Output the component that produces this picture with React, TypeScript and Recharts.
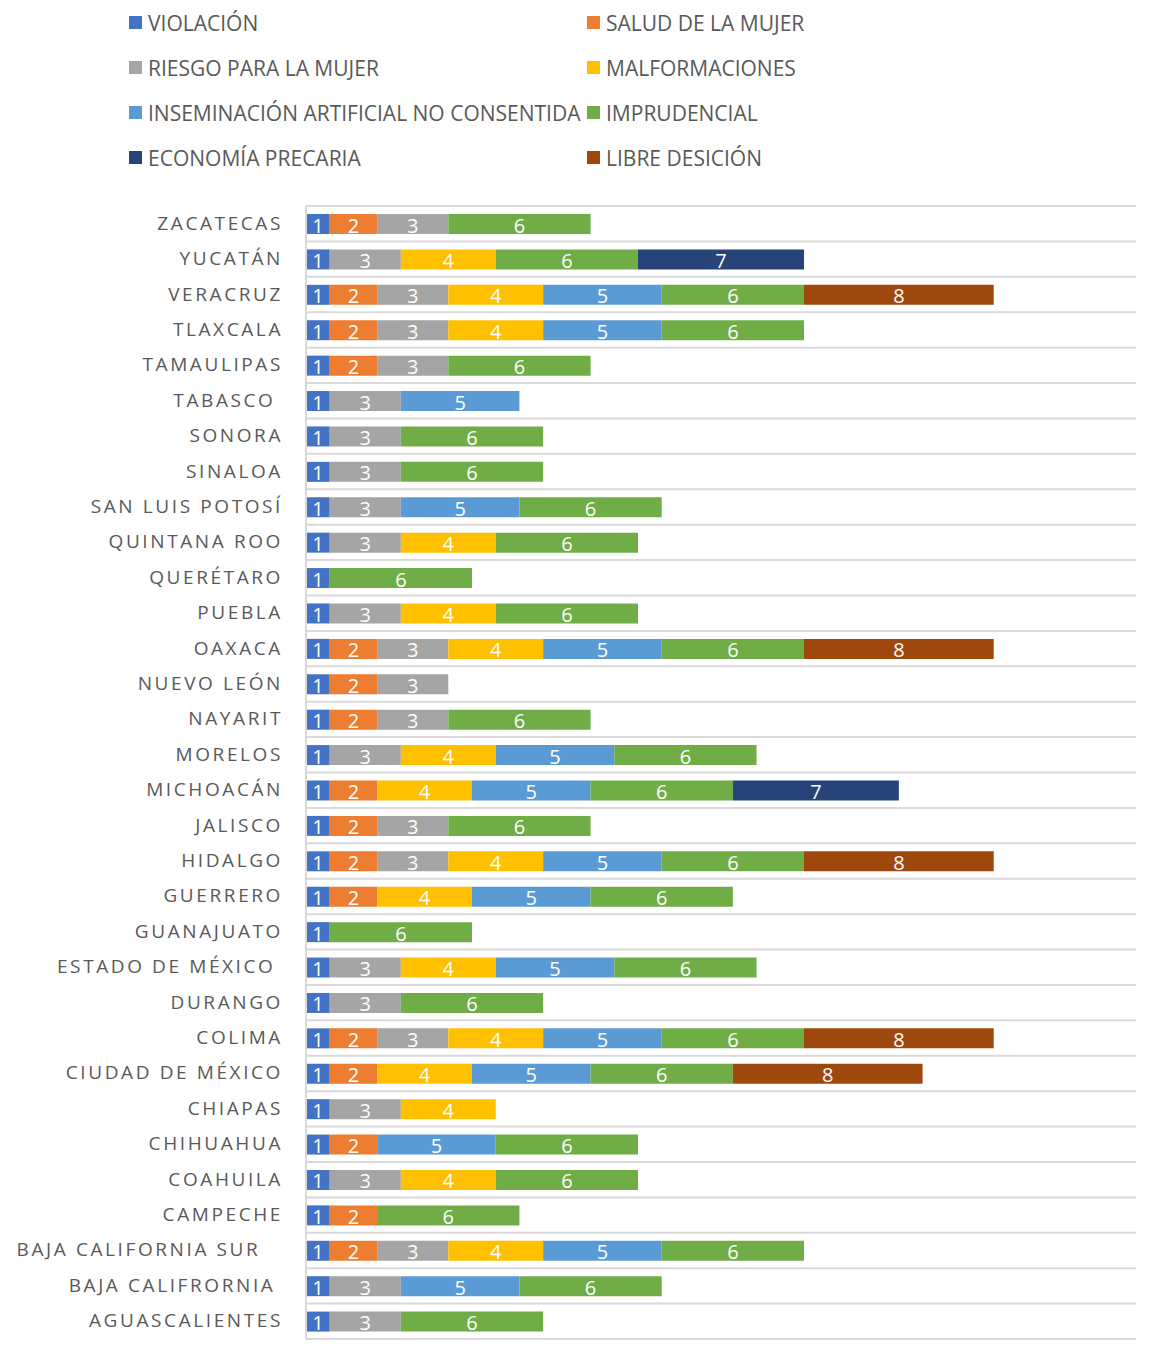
import React from "react";
import {
    BarChart, Bar, XAxis, YAxis, CartesianGrid, LabelList,
} from "recharts";

const categories = [
    "ZACATECAS", "YUCATÁN", "VERACRUZ", "TLAXCALA", "TAMAULIPAS", "TABASCO ",
    "SONORA", "SINALOA", "SAN LUIS POTOSÍ", "QUINTANA ROO", "QUERÉTARO", "PUEBLA",
    "OAXACA", "NUEVO LEÓN", "NAYARIT", "MORELOS", "MICHOACÁN", "JALISCO",
    "HIDALGO", "GUERRERO", "GUANAJUATO", "ESTADO DE MÉXICO ", "DURANGO", "COLIMA",
    "CIUDAD DE MÉXICO", "CHIAPAS", "CHIHUAHUA", "COAHUILA", "CAMPECHE",
    "BAJA CALIFORNIA SUR   ", "BAJA CALIFRORNIA ", "AGUASCALIENTES",
];

// one value per state, top to bottom
const violacion = [1, 1, 1, 1, 1, 1, 1, 1, 1, 1, 1, 1, 1, 1, 1, 1, 1, 1, 1, 1, 1, 1, 1, 1, 1, 1, 1, 1, 1, 1, 1, 1];
const saludMujer = [2, 0, 2, 2, 2, 0, 0, 0, 0, 0, 0, 0, 2, 2, 2, 0, 2, 2, 2, 2, 0, 0, 0, 2, 2, 0, 2, 0, 2, 2, 0, 0];
const riesgoMujer = [3, 3, 3, 3, 3, 3, 3, 3, 3, 3, 0, 3, 3, 3, 3, 3, 0, 3, 3, 0, 0, 3, 3, 3, 0, 3, 0, 3, 0, 3, 3, 3];
const malformaciones = [0, 4, 4, 4, 0, 0, 0, 0, 0, 4, 0, 4, 4, 0, 0, 4, 4, 0, 4, 4, 0, 4, 0, 4, 4, 4, 0, 4, 0, 4, 0, 0];
const inseminacion = [0, 0, 5, 5, 0, 5, 0, 0, 5, 0, 0, 0, 5, 0, 0, 5, 5, 0, 5, 5, 0, 5, 0, 5, 5, 0, 5, 0, 0, 5, 5, 0];
const imprudencial = [6, 6, 6, 6, 6, 0, 6, 6, 6, 6, 6, 6, 6, 0, 6, 6, 6, 6, 6, 6, 6, 6, 6, 6, 6, 0, 6, 6, 6, 6, 6, 6];
const economiaPrecaria = [0, 7, 0, 0, 0, 0, 0, 0, 0, 0, 0, 0, 0, 0, 0, 0, 7, 0, 0, 0, 0, 0, 0, 0, 0, 0, 0, 0, 0, 0, 0, 0];
const libreDesicion = [0, 0, 8, 0, 0, 0, 0, 0, 0, 0, 0, 0, 8, 0, 0, 0, 0, 0, 8, 0, 0, 0, 0, 8, 8, 0, 0, 0, 0, 0, 0, 0];

const SERIES = [
    { key: "violacion", name: "VIOLACIÓN", color: "#4472C4", values: violacion },
    { key: "salud", name: "SALUD DE LA MUJER", color: "#ED7D31", values: saludMujer },
    { key: "riesgo", name: "RIESGO PARA LA MUJER", color: "#A5A5A5", values: riesgoMujer },
    { key: "malformaciones", name: "MALFORMACIONES", color: "#FFC000", values: malformaciones },
    { key: "inseminacion", name: "INSEMINACIÓN ARTIFICIAL NO CONSENTIDA", color: "#5B9BD5", values: inseminacion },
    { key: "imprudencial", name: "IMPRUDENCIAL", color: "#70AD47", values: imprudencial },
    { key: "economia", name: "ECONOMÍA PRECARIA", color: "#264478", values: economiaPrecaria },
    { key: "libre", name: "LIBRE DESICIÓN", color: "#9E480E", values: libreDesicion },
];

const FONT = "'Open Sans', sans-serif";
const TEXT = "#595959";
const GRID = "#d9d9d9";

const data = categories.map((name, i) => {
    const row: any = { name };
    SERIES.forEach(s => { row[s.key] = s.values[i]; });
    return row;
});

function StateTick({ x, y, payload }: any) {
    return (
        <text
            x={x - 15}
            y={y - 1}
            textAnchor="end"
            dominantBaseline="central"
            fill={TEXT}
            fontSize={19}
            fontFamily={FONT}
            letterSpacing={2.6}
            style={{ whiteSpace: "pre" }}
        >
            {payload.value}
        </text>
    );
}

function renderValue(props: any) {
    const { x, y, width, height, value } = props;
    if (!value) return null;
    return (
        <text
            x={x + width / 2}
            y={y + height / 2 + 1}
            textAnchor="middle"
            dominantBaseline="central"
            fill="#ffffff"
            fontSize={20}
            fontFamily={FONT}
        >
            {value}
        </text>
    );
}

function LegendBlock() {
    return (
        <div
            style={{
                position: "absolute", left: 129, top: 0,
                display: "grid", gridTemplateColumns: "458px 400px",
                fontFamily: FONT, fontSize: 21, color: TEXT,
            }}
        >
            {SERIES.map(s => (
                <div key={s.key} style={{ display: "flex", alignItems: "center", height: 45, whiteSpace: "nowrap" }}>
                    <span style={{ width: 13, height: 13, background: s.color, marginRight: 6, display: "inline-block" }} />
                    <span>{s.name}</span>
                </div>
            ))}
        </div>
    );
}

export default function App() {
    const n = categories.length;
    return (
        <div style={{ position: "relative", width: 1154, height: 1360, background: "#fff" }}>
            <style>{`body{margin:0}`}</style>
            <LegendBlock />
            <BarChart
                width={1154}
                height={1360}
                data={data}
                layout="vertical"
                margin={{ top: 206, right: 18, left: 0, bottom: 21 }}
                barSize={20}
            >
                <CartesianGrid
                    vertical={false}
                    stroke={GRID}
                    strokeWidth={2}
                    horizontalCoordinatesGenerator={({ offset }: any) =>
                        Array.from({ length: n + 1 }, (_, i) => offset.top + (i * offset.height) / n)
                    }
                />
                <XAxis type="number" domain={[0, 35]} hide />
                <YAxis
                    type="category"
                    dataKey="name"
                    width={306}
                    tickLine={false}
                    axisLine={{ stroke: GRID, strokeWidth: 2 }}
                    tick={<StateTick />}
                    interval={0}
                />
                {SERIES.map(s => (
                    <Bar
                        key={s.key}
                        dataKey={s.key}
                        name={s.name}
                        stackId="a"
                        fill={s.color}
                        isAnimationActive={false}
                    >
                        <LabelList dataKey={s.key} content={renderValue} />
                    </Bar>
                ))}
            </BarChart>
        </div>
    );
}
